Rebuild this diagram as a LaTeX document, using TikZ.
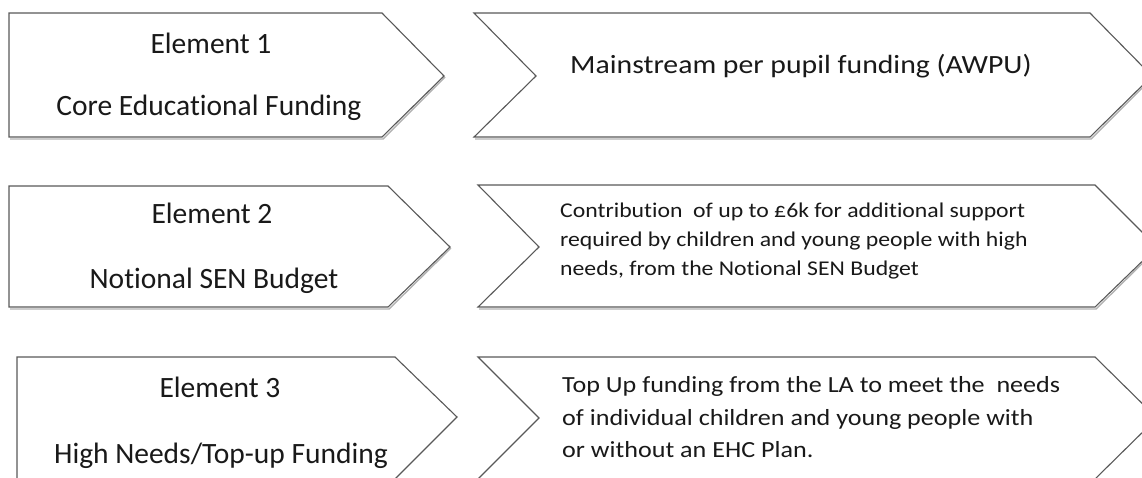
\documentclass[tikz,border=0pt]{standalone}
\usepackage{fontspec}
\setmainfont{Carlito}[Ligatures={NoCommon,NoContextual}]
\newfontfamily\widefont[FakeStretch=1.13,Ligatures={NoCommon,NoContextual}]{Carlito}
\begin{document}
\begin{tikzpicture}[x=1pt,y=-1pt,
  shapeline/.style={draw=black!65,line width=1.1pt,line join=miter,fill=white},
  shadowline/.style={draw=black!30,line width=1.4pt},
  lefttext/.style={font=\fontsize{29.5}{32}\selectfont,text=black!90,anchor=base,inner sep=0pt},
  righttext/.style={text=black!90,anchor=base west,inner sep=0pt,align=left}]
\useasboundingbox (0,0) rectangle (1142,477);
\clip (0,0) rectangle (1142,477);
% shadows
\draw[shadowline] (10,139) -- (383,139) -- (445,77);
\draw[shadowline] (475,139) -- (1091,139) -- (1153,77);
\draw[shadowline] (10,309) -- (389,309) -- (451,248);
\draw[shadowline] (479,309) -- (1096,309) -- (1158,248);
% row 1
\draw[shapeline] (9,13) -- (382,13) -- (444,76) -- (382,137) -- (9,137) -- cycle;
\draw[shapeline] (474,13) -- (1090,13) -- (1152,76) -- (1090,137) -- (474,137) -- (536,76) -- cycle;
% row 2
\draw[shapeline] (9,186) -- (388,186) -- (450,247) -- (388,307) -- (9,307) -- cycle;
\draw[shapeline] (478,185) -- (1095,185) -- (1157,247) -- (1095,307) -- (478,307) -- (539,247) -- cycle;
% row 3
\draw[shapeline] (17,357) -- (395,357) -- (457,417) -- (395,479) -- (17,479) -- cycle;
\draw[shapeline] (478,357) -- (1095,357) -- (1157,418) -- (1095,479) -- (478,479) -- (539,418) -- cycle;
% left texts
\node[lefttext] (e1) at (211,53) {Element 1};
\node[lefttext] (c1) at (209,115) {Core Educational Funding};
\node[lefttext] (e2) at (212,223) {Element 2};
\node[lefttext] (c2) at (214,288) {Notional SEN Budget};
\node[lefttext] (e3) at (220,397) {Element 3};
\node[lefttext] (c3) at (221,463) {High Needs/Top-up Funding};
% right texts
\node[righttext,font=\widefont\fontsize{26.3}{29}\selectfont] (r1) at (570,73) {Mainstream per pupil funding (AWPU)};
\node[righttext,font=\widefont\fontsize{21}{29}\selectfont] (r2a) at (560,217) {Contribution\ \ of up to £6k for additional support};
\node[righttext,font=\widefont\fontsize{21}{29}\selectfont] (r2b) at (560,246) {required by children and young people with high};
\node[righttext,font=\widefont\fontsize{21}{29}\selectfont] (r2c) at (560,275) {needs, from the Notional SEN Budget};
\node[righttext,font=\widefont\fontsize{23.1}{33}\selectfont] (r3a) at (562,392) {Top Up funding from the LA to meet the\ \ needs};
\node[righttext,font=\widefont\fontsize{23.1}{33}\selectfont] (r3b) at (562,425) {of individual children and young people with};
\node[righttext,font=\widefont\fontsize{23.1}{33}\selectfont] (r3c) at (562,457) {or without an EHC Plan.};
\end{tikzpicture}
\end{document}
